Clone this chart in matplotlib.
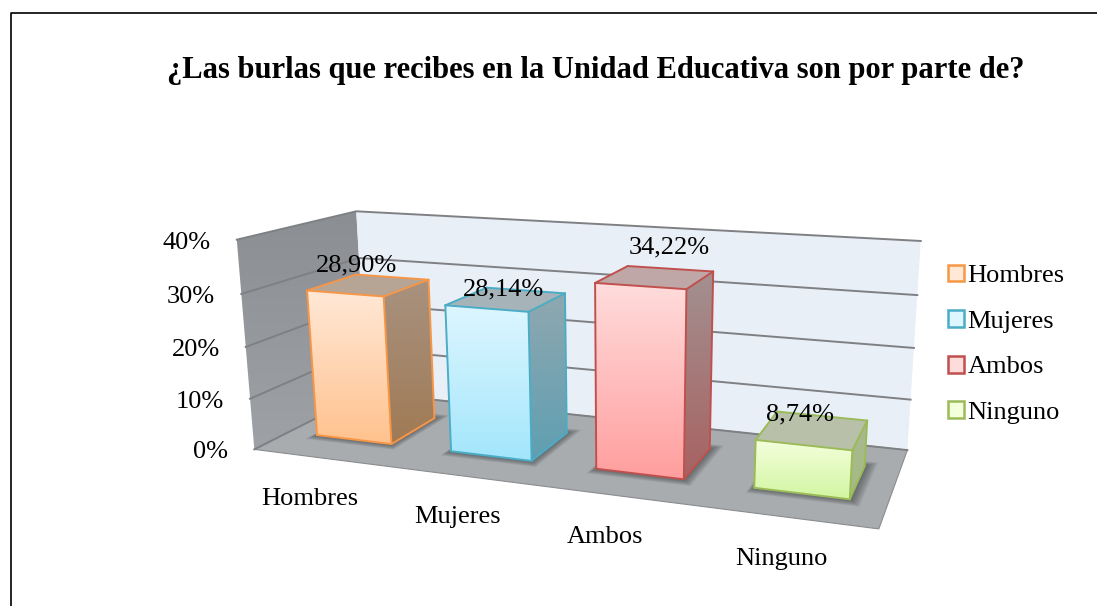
import matplotlib
matplotlib.use("Agg")
import matplotlib.pyplot as plt
import numpy as np
from matplotlib.patches import Polygon, Patch

plt.rcParams['font.family'] = ['Liberation Serif', 'DejaVu Serif']

categories = ["Hombres", "Mujeres", "Ambos", "Ninguno"]
values = [28.90, 28.14, 34.22, 8.74]
value_labels = ["28,90%", "28,14%", "34,22%", "8,74%"]
ticks = [0, 10, 20, 30, 40]
tick_labels = ["0%", "10%", "20%", "30%", "40%"]
title = "¿Las burlas que recibes en la Unidad Educativa son por parte de?"

edge_colors = ["#F79646", "#4BACC6", "#C0504D", "#9BBB59"]
front_top = ["#FFE8D6", "#DDF6FF", "#FFDCDC", "#F4FFDC"]
front_bottom = ["#FFC28E", "#A3E6FC", "#FF9E9E", "#D2F6A2"]
side_top = ["#A8927F", "#8FA8B0", "#A39090", "#A9B792"]
side_bottom = ["#A07A55", "#5F9FB2", "#A86262", "#A4BC80"]
top_colors = ["#B6A494", "#A6B4B9", "#BFA7A7", "#B9C0A9"]

# fit a camera to the corners of the box, (x, depth, value) -> pixels
box_3d = np.array([[0, 0, 0], [0, 0, 40], [0, 1, 0], [0, 1, 40],
                   [4, 1, 0], [4, 1, 40], [4, 0, 0]], dtype=float)
box_px = np.array([[253, 449], [238, 240], [368, 393], [355, 211],
                   [907, 450], [921, 241], [879, 529]], dtype=float)
rows = []
rhs = []
for (X, Y, Z), (u, v) in zip(box_3d, box_px):
    rows.append([X, Y, Z, 1, 0, 0, 0, 0, -u * X, -u * Y, -u * Z])
    rows.append([0, 0, 0, 0, X, Y, Z, 1, -v * X, -v * Y, -v * Z])
    rhs += [u, v]
cam = np.linalg.lstsq(np.array(rows), np.array(rhs), rcond=None)[0]
cam = np.append(cam, 1).reshape(3, 4)


def proj(x, d, v):
    p = cam @ np.array([x, d, v, 1.0])
    return p[:2] / p[2]


def gradient_poly(ax, pts, c1, c2, z):
    # vertical gradient clipped to a polygon
    pts = np.array(pts)
    poly = Polygon(pts, closed=True, transform=ax.transData, fc="none", ec="none")
    ax.add_patch(poly)
    a = np.array(matplotlib.colors.to_rgb(c1))
    b = np.array(matplotlib.colors.to_rgb(c2))
    t = np.linspace(0, 1, 64)[:, None, None]
    img = a[None, None, :] * (1 - t) + b[None, None, :] * t
    im = ax.imshow(img, extent=[pts[:, 0].min(), pts[:, 0].max(), pts[:, 1].max(), pts[:, 1].min()],
                   aspect="auto", zorder=z, interpolation="bilinear")
    im.set_clip_path(poly)


fig = plt.figure(figsize=(10.97, 6.06), dpi=100)
ax = fig.add_axes([0, 0, 1, 1])

# outer border
ax.plot([10.5, 10.5, 1097], [606, 12.5, 12.5], color="black", lw=1.2, zorder=1)

# walls and floor
gradient_poly(ax, [proj(0, 0, 0), proj(0, 0, 40), proj(0, 1, 40), proj(0, 1, 0)], "#8B8F94", "#9EA1A5", 2)
gradient_poly(ax, [proj(0, 1, 0), proj(0, 1, 40), proj(4, 1, 40), proj(4, 1, 0)], "#EAF0F7", "#E8EFF7", 2)
ax.add_patch(Polygon([proj(0, 0, 0), proj(0, 1, 0), proj(4, 1, 0), proj(4, 0, 0)], fc="#A9ACAF", ec="#8A8C8F",
                     lw=0.8, zorder=3))

for t in ticks:
    pts = np.array([proj(0, 0, t), proj(0, 1, t), proj(4, 1, t)])
    ax.plot(pts[:, 0], pts[:, 1], color="#7F8083", lw=1.4, zorder=4)
    p = proj(0, 0, t)
    ax.text(p[0] - 26, p[1] + 9, tick_labels[ticks.index(t)], ha="right", va="baseline", fontsize=19, zorder=10)

bar_w = 0.565
d0, d1 = 0.28, 0.71
label_off = [(-13, -20), (-3, -10), (14, -30), (-13, -16)]
cat_off = [(-11, 47), (-6, 47), (-13, 47), (-7, 48)]

for i, val in enumerate(values):
    x0 = i + (1 - bar_w) / 2
    x1 = x0 + bar_w
    fl0, fr0, bl0, br0 = proj(x0, d0, 0), proj(x1, d0, 0), proj(x0, d1, 0), proj(x1, d1, 0)
    fl1, fr1, bl1, br1 = proj(x0, d0, val), proj(x1, d0, val), proj(x0, d1, val), proj(x1, d1, val)

    # soft shadow on the floor
    for grow in np.linspace(0.07, 0.005, 12):
        shadow = [proj(x0 - grow * 0.4, d0 - grow, 0), proj(x1 + grow, d0 - grow, 0),
                  proj(x1 + grow, d1 + grow, 0), proj(x0 - grow * 0.4, d1 + grow, 0)]
        ax.add_patch(Polygon(shadow, fc="#3E4144", ec="none", alpha=0.07, zorder=5))

    gradient_poly(ax, [fr0, fr1, br1, br0], side_top[i], side_bottom[i], 6)
    gradient_poly(ax, [fl0, fl1, fr1, fr0], front_top[i], front_bottom[i], 6)
    ax.add_patch(Polygon([fl1, fr1, br1, bl1], fc=top_colors[i], ec="none", zorder=6))
    for a, b in [(fl0, fl1), (fl1, fr1), (fr1, fr0), (fr0, fl0), (fr0, br0), (br0, br1),
                 (br1, fr1), (fl1, bl1), (bl1, br1)]:
        ax.plot([a[0], b[0]], [a[1], b[1]], color=edge_colors[i], lw=1.4, zorder=7,
                solid_capstyle="round")

    c = proj(x0 + bar_w / 2, (d0 + d1) / 2, val)
    ax.text(c[0] + label_off[i][0], c[1] + label_off[i][1], value_labels[i], ha="center", va="center",
            fontsize=19, zorder=10)

    e = proj(i + 0.5, 0, 0)
    ax.text(e[0] + cat_off[i][0], e[1] + cat_off[i][1], categories[i], ha="center", va="baseline", fontsize=19,
            zorder=10)

ax.text(595.5, 78, title, ha="center", va="baseline", fontsize=22, fontweight="bold", zorder=10)

handles = [Patch(fc=front_top[i], ec=edge_colors[i], lw=1.8, label=categories[i]) for i in range(4)]
ax.legend(handles=handles, loc="upper left", bbox_to_anchor=(948 / 1097, 1 - 264.5 / 606), frameon=False,
          fontsize=19, handlelength=0.6, handleheight=0.6, handletextpad=0.14, labelspacing=0.87,
          borderpad=0, borderaxespad=0)

ax.set_xlim(0, 1097)
ax.set_ylim(606, 0)
ax.axis("off")
plt.savefig("out.png", dpi=100)
